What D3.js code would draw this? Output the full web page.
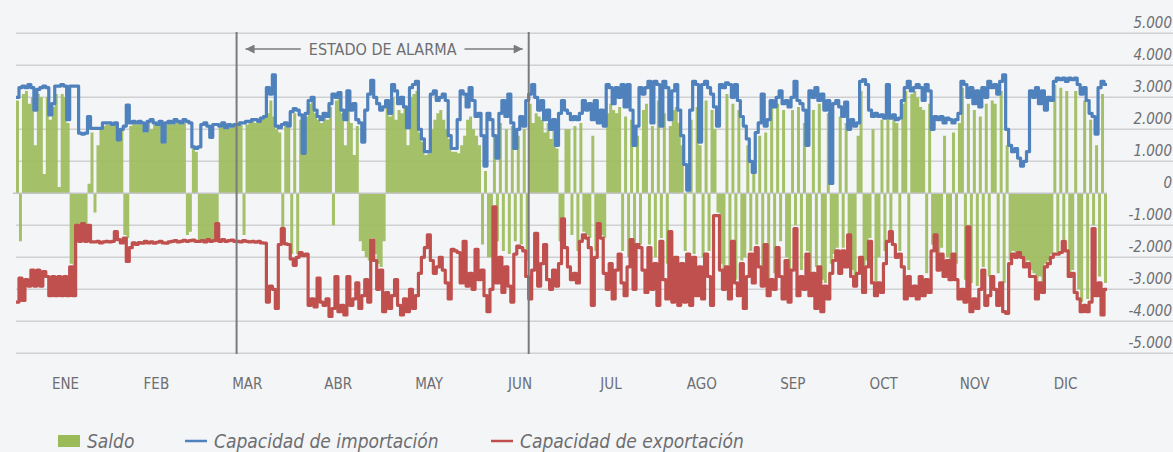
<!DOCTYPE html>
<html>
<head>
<meta charset="utf-8">
<script src="https://cdn.jsdelivr.net/npm/d3@7"></script>
<style>
  html, body { margin: 0; padding: 0; background: #f4f5f7; }
  svg { display: block; }
  text { font-family: "Liberation Sans Narrow", "DejaVu Sans Condensed", Roboto, sans-serif; }
</style>
</head>
<body>
<svg id="chart" width="1173" height="452"></svg>
<script>
// Period covered (one value per day)
const START_DATE = "2020-01-01";
const END_DATE = "2021-01-01";

const MONTHS = ["ENE", "FEB", "MAR", "ABR", "MAY", "JUN", "JUL", "AGO", "SEP", "OCT", "NOV", "DIC"];
const Y_TICKS = [5000, 4000, 3000, 2000, 1000, 0, -1000, -2000, -3000, -4000, -5000];

const ALARM_DATES = ["2020-03-15", "2020-06-21"];
const ALARM_LABEL = "ESTADO DE ALARMA";

const LEGEND_LABELS = ["Saldo", "Capacidad de importación", "Capacidad de exportación"];

// Daily import capacity (MW)
const IMPORT_MW = [
  3000, 3300, 3350, 3300, 3400, 3300, 2600, 3250, 3300, 3350,
  3300, 2450, 2800, 3350, 3350, 3400, 3350, 2300, 3350, 3350, 3350,
  1880, 1850, 1880, 2400, 2030, 2030, 2030, 2030, 2200, 2200,
  2200, 2150, 2200, 1670, 2000, 2100, 2760, 2200, 2250, 2200,
  2250, 2200, 1950, 2250, 2300, 2200, 2150, 2250, 1600, 2200,
  2250, 2200, 2300, 2250, 2200, 2300, 2250, 2200, 1450, 1400,
  1450, 2150, 2200, 2100, 1750, 2150, 2150, 2100, 2200, 2050, 2150, 2100, 2150,
  2150, 2200, 2200, 2250, 2250, 2300, 2300, 2250, 2350, 2400, 3300, 3100,
  3700, 2100, 2050, 2150, 2200, 2100, 2550, 2650, 2600, 2450, 1250, 2500,
  2900, 3000, 2600, 2400, 2300, 2500, 2400, 2800, 3100, 3000, 3150, 2600, 2300,
  3200, 2600, 2800, 2300, 2200, 1600, 2600, 3100, 3530, 3000, 2800, 2600,
  2700, 2900, 2500, 3400, 3200, 2800, 3000, 2700, 2050, 3300, 3400, 3500,
  2000, 1700, 1300, 1300, 3100, 3200, 2900, 3000, 3100, 2900, 1800, 1400,
  1400, 2300, 3200, 3100, 2700, 3300, 2900, 2400, 2500, 1800, 850, 2500,
  2300, 1800, 1100, 2500, 2900, 2400, 3100, 2200, 1400, 2000, 2400, 2100, 2900,
  3100, 3400, 3000, 2600, 2900, 2300, 2600, 2000, 2300, 1500, 2500, 2900, 2600,
  2500, 2300, 2400, 2300, 2500, 2900, 2600, 2800, 2300, 2900, 2200, 2600, 2100,
  3400, 3300, 2800, 3300, 3000, 3400, 2700, 3400, 2600, 1500, 2100, 3300, 3100,
  3300, 3500, 2200, 3500, 3400, 2100, 3500, 3300, 2300, 3200, 3400, 2600, 1800,
  900, 100, 2600, 3500, 3400, 1600, 3400, 3500, 3300, 3100, 2700, 2100, 3400,
  3300, 3450, 3400, 3000, 3400, 2900, 2400, 2100, 1700, 1000, 650, 1900, 2200,
  3100, 2100, 2300, 2900, 2700, 3000, 3200, 2800, 2900, 2700, 3000, 3500, 2900,
  2800, 2600, 1500, 3200, 3000, 3300, 2900, 3100, 2600, 2900, 310, 2800, 2900,
  2700, 2400, 2850, 2000, 2300, 2100, 2200, 3500, 3550, 3400, 2600, 2400, 2500,
  2400, 2450, 2350, 3400, 2350, 2450, 2300, 2350, 2900, 3300, 3500, 3200, 3300,
  3400, 3300, 2900, 3400, 3200, 2000, 2400, 2300, 2400, 2200, 2350, 2300, 2200,
  2300, 2500, 3500, 3400, 3000, 3300, 2800, 3200, 2700, 3300, 3000, 3500, 3300,
  3400, 3100, 3500, 3700, 2000, 1500, 1300, 1400, 1100, 850, 1000, 1300, 3200,
  3000, 3300, 2800, 3200, 2600, 3000, 2900, 3500, 3600, 3550, 3600, 3500, 3600,
  3550, 3600, 3400, 3100, 3300, 2900, 2500, 2400, 1850, 3300, 3500, 3400
];

// Daily export capacity (MW, negative)
const EXPORT_MW = [
  -3400, -2650, -3350, -2700, -2900, -2400, -2900, -2400, -2900, -2450,
  -2600, -3200, -2600, -3200, -2600, -3200, -2600, -3200, -2300, -3200, -1000,
  -1500, -950, -1500, -1000, -1520, -1520, -1500, -1550, -1520, -1500,
  -1520, -1500, -1200, -1450, -1550, -1400, -2130, -1700, -1550, -1600,
  -1540, -1560, -1500, -1550, -1520, -1560, -1530, -1500, -1550, -1560,
  -1520, -1500, -1480, -1520, -1500, -1470, -1500, -1480, -1460, -1500,
  -1500, -1480, -1520, -1450, -1500, -1480, -950, -1500, -1450, -1500, -1480, -1460, -1500,
  -1500, -1520, -1480, -1500, -1520, -1500, -1530, -1500, -1550, -1560, -3400, -2900,
  -3000, -3600, -1600, -1100, -1580, -1600, -2050, -2250, -2000, -1850, -1950, -1900,
  -3500, -3300, -3550, -2650, -3400, -3500, -3300, -3850, -3600, -2600, -3700, -3500, -3800,
  -2600, -3500, -3300, -2800, -3600, -3200, -2700, -3400, -1460, -2100, -3000, -2400,
  -3700, -3100, -3600, -3200, -2700, -3500, -3800, -3300, -3700, -3000, -3600, -3200,
  -2500, -2000, -1700, -1300, -2100, -2500, -2300, -2000, -2400, -2800, -3300, -1750,
  -1800, -1850, -2800, -1500, -2900, -2500, -3000, -1750, -2700, -2400, -3200, -3700,
  -3000, -420, -2800, -2000, -3100, -2300, -2900, -3400, -1900, -1650, -1700, -1800, -2600,
  -3300, -2400, -1250, -2900, -2200, -1600, -2700, -3000, -2400, -2900, -2200, -800, -1700,
  -2300, -2700, -2500, -2800, -1500, -1300, -1400, -1700, -3500, -2000, -950, -1400, -2500,
  -3000, -2200, -3300, -2400, -1900, -2800, -3200, -2300, -1450, -3000, -1600, -1700, -2400,
  -3100, -1700, -3000, -2200, -3500, -1500, -2700, -3300, -1200, -3400, -2000, -3500, -2200,
  -3400, -1900, -3500, -2000, -3200, -2300, -3300, -1900, -2600, -3500, -700, -700, -2400,
  -3000, -2300, -3300, -1500, -2800, -3200, -2200, -3600, -2600, -1900, -2800, -1700, -2300,
  -2900, -1600, -3200, -2700, -3000, -1700, -2600, -3300, -2100, -3400, -2400, -1100, -3200,
  -2600, -3000, -1900, -3200, -2500, -3600, -2300, -3700, -2900, -3300, -2500, -2100, -1800,
  -2500, -1800, -2300, -1300, -2600, -2900, -2500, -2000, -3100, -2300, -1500, -2800, -3200,
  -2800, -3100, -2200, -1500, -1200, -1600, -2000, -1900, -2300, -3300, -2600, -3200, -2900,
  -3300, -2600, -3200, -2700, -3100, -1800, -1300, -2400, -1900, -2600, -2100, -2700, -1900,
  -2700, -3300, -3000, -3400, -1050, -3700, -3300, -3600, -3000, -2400, -3500, -3200, -2600,
  -3000, -3500, -2800, -3700, -3750, -2200, -1900, -2000, -1850, -2000, -2300, -2200, -2600,
  -2600, -3300, -2800, -3100, -2300, -2200, -2000, -1900, -1900, -1850, -1500, -1800, -2600,
  -2500, -3100, -3300, -3700, -3500, -3700, -3400, -1100, -3200, -2800, -3800, -3000
];

// Daily net exchange balance (MW)
const SALDO_MW = [
  2900, -1500, 3100, 3200, 2800, 3000, 1500, 3100, 3000, 600,
  3000, 2300, 2700, 3100, 200, 3100, 3000, 2200, -2200, -2800, -1000,
  -1400, -900, -1300, 300, 1900, -600, 1500, 2000, 2100, 2150,
  2150, 2100, 2150, 1650, 1950, -1300, -1400, 2100, 2200, 2150,
  2200, 2150, 1900, 2200, 2000, 2150, 2100, 2200, 1550, 2150,
  2200, 2150, 2250, 2200, 2150, 2200, -1300, -1200, 1400, 1300,
  -1450, -1450, -1500, -1400, -1450, -1450, -900, 2050, 2150, 2000, 2100, 2050, 2100,
  2100, 2150, -1300, 2150, 2200, 2250, 2200, 2200, 2300, 2350, 2500, 2900,
  2400, 2000, 1900, -1100, 2100, 2050, -1900, 2500, -1900, 2300, 1200, 2400,
  2800, 2900, 2500, 2300, 2200, 2400, 2300, 2700, -1000, 2900, 3000, 2500, 1500,
  2900, 2200, 1200, 2100, -1500, -1800, -2000, -2100, -1400, -1900, -2200, -2300,
  -1500, 2700, 2400, 3000, 2300, 2600, 2500, 2700, 1500, 3000, 3100, 3200,
  1900, 1600, 1200, 1250, 2000, 2300, 2500, 2600, 2300, 2000, 1700, 1300,
  1300, 1250, 1500, 1800, 2300, 2400, 2000, 1800, 1500, -1600, 700, -2000,
  -2000, 1800, -1500, 2200, -1800, 2000, -1900, 2100, -1500, 1800, -1600, 2000, -2100,
  2800, 2200, 2500, 2400, 2300, 1900, 2200, 1700, 2000, 1400, -1500, -800, 2000,
  2000, -1300, 2100, -1800, 2200, -1200, -1300, -1400, 1800, -1800, -900, -1300, -1400,
  2500, 2800, 2600, 2500, 2700, -1800, 2400, -2000, 2300, -2200, 1800, -1600, 2600,
  2800, -1600, 2100, -2000, 2900, -1400, 2500, -2200, 2100, 2600, 2700, 2200, 1500,
  -1800, 50, 2300, -1900, 2700, 1500, -2000, 2900, -1800, 2600, 2000, -600, -2200,
  -2600, 3100, -2300, 2800, -2700, 2600, -2100, -2000, 1500, -1800, 600, -1600, 1800,
  -2400, 1900, -2700, 2700, -2500, 2800, -1500, 2600, -2000, -2900, 2600, -1000, 2700,
  -2400, 2200, -1800, -2900, 2600, -2300, 2800, -2700, -2800, 2500, -2200, -1900, -1700,
  2400, -1700, 2200, -1300, -2400, -2700, 1800, 3200, -2900, -2100, -1400, 2000, -2900,
  -2000, 2300, -1800, 3000, -1200, 2400, 2200, -1800, 2800, 3200, -2400, 3100, 3200,
  3000, 2700, 2600, -2500, 2800, -1600, -1300, -1900, -1700, 1800, -2000, -2300, 1900,
  -2200, 2200, 3300, -2700, 2800, -2800, 2600, -2900, 2400, -2300, 2800, -2600, 2900,
  2800, -2500, 3200, -2800, 1500, -2100, -1800, -1900, -1800, -1950, -2200, -2100, -2400,
  -2500, -3000, -2600, -2900, -2200, -2100, -1900, 3400, -1850, 3300, -1450, 3200, -2500,
  -2400, 3200, -3000, -3400, 2900, -3300, 2300, -1000, 1500, -2600, 3100, -2800
];

const COLORS = { saldo: "#9bbb59", imp: "#4f81bd", exp: "#c0504d", grid: "#cfd0d2", text: "#6d6e71", alarm: "#7b7b7b" };

const svg = d3.select("#chart");
const W = 1173, H = 452;
svg.append("rect").attr("width", W).attr("height", H).attr("fill", "#f4f5f7");

const start = new Date(START_DATE + "T00:00:00Z");
const end = new Date(END_DATE + "T00:00:00Z");
const x = d3.scaleUtc().domain([start, end]).range([16, 1107]);
const y = d3.scaleLinear().domain([-5000, 5000]).range([353.3, 33.3]);

const days = IMPORT_MW.map((_, i) => d3.utcDay.offset(start, i));
// Extend the last step to the end of the year
function series(values) {
  const pts = values.map((v, i) => ({ date: days[i], v }));
  pts.push({ date: end, v: values[values.length - 1] });
  return pts;
}

const locale = d3.formatLocale({ decimal: ",", thousands: ".", grouping: [3], currency: ["", " €"], minus: "-" });
const fmt = locale.format(",d");

// Horizontal gridlines
svg.append("g").selectAll("line")
  .data(Y_TICKS.filter(t => t !== 0))
  .join("line")
  .attr("x1", 16).attr("x2", W)
  .attr("y1", d => y(d)).attr("y2", d => y(d))
  .attr("stroke", COLORS.grid).attr("stroke-width", 1.5);

// Net balance area
const area = d3.area().curve(d3.curveStepAfter)
  .x(d => x(d.date)).y0(y(0)).y1(d => y(d.v));
svg.append("path").datum(series(SALDO_MW))
  .attr("d", area).attr("fill", COLORS.saldo).attr("fill-opacity", 0.9);

// Zero axis line
svg.append("line")
  .attr("x1", 13).attr("x2", 1107).attr("y1", y(0)).attr("y2", y(0))
  .attr("stroke", "#c4c5c7").attr("stroke-width", 1.5);

// Capacity lines
const line = d3.line().curve(d3.curveStepAfter).x(d => x(d.date)).y(d => y(d.v));
svg.append("path").datum(series(IMPORT_MW))
  .attr("d", line).attr("fill", "none").attr("stroke", COLORS.imp)
  .attr("stroke-width", 3.2).attr("stroke-linejoin", "round");
svg.append("path").datum(series(EXPORT_MW))
  .attr("d", line).attr("fill", "none").attr("stroke", COLORS.exp)
  .attr("stroke-width", 3.2).attr("stroke-linejoin", "round");

// Y tick labels, sitting above their gridlines on the right
svg.append("g").selectAll("text")
  .data(Y_TICKS)
  .join("text")
  .attr("x", 1172).attr("y", d => y(d) - 5)
  .attr("text-anchor", "end")
  .attr("font-size", 15).attr("font-style", "italic")
  .attr("fill", COLORS.text)
  .text(d => fmt(d));

// Month labels
const mx = d3.scaleBand().domain(MONTHS).range([20, 1111]);
const xAxis = svg.append("g").attr("transform", "translate(0,378)")
  .call(d3.axisBottom(mx).tickSize(0).tickPadding(0));
xAxis.select(".domain").remove();
xAxis.selectAll("text").attr("font-size", 15).attr("fill", COLORS.text)
  .attr("font-family", "\"Liberation Sans Narrow\", \"DejaVu Sans Condensed\", Roboto, sans-serif");

// State of alarm period
const a0 = x(new Date(ALARM_DATES[0] + "T00:00:00Z"));
const a1 = x(new Date(ALARM_DATES[1] + "T00:00:00Z"));
svg.append("g").selectAll("line")
  .data([a0, a1]).join("line")
  .attr("x1", d => d).attr("x2", d => d).attr("y1", 32).attr("y2", 354)
  .attr("stroke", COLORS.alarm).attr("stroke-width", 2);

const defs = svg.append("defs");
defs.append("marker").attr("id", "arrowhead")
  .attr("viewBox", "0 0 10 10").attr("refX", 10).attr("refY", 5)
  .attr("markerWidth", 14).attr("markerHeight", 9).attr("orient", "auto-start-reverse")
  .attr("markerUnits", "userSpaceOnUse")
  .append("path").attr("d", "M0,0 L10,5 L0,10 Z").attr("fill", COLORS.alarm);

const labelY = 49;
const mid = (a0 + a1) / 2;
const label = svg.append("text")
  .attr("x", mid).attr("y", labelY + 6)
  .attr("text-anchor", "middle").attr("font-size", 16)
  .attr("fill", COLORS.text).text(ALARM_LABEL);
const lw = label.node().getComputedTextLength();
svg.append("line")
  .attr("x1", mid - lw / 2 - 8).attr("x2", a0 + 9).attr("y1", labelY).attr("y2", labelY)
  .attr("stroke", COLORS.alarm).attr("stroke-width", 1.6)
  .attr("marker-end", "url(#arrowhead)");
svg.append("line")
  .attr("x1", mid + lw / 2 + 8).attr("x2", a1 - 6).attr("y1", labelY).attr("y2", labelY)
  .attr("stroke", COLORS.alarm).attr("stroke-width", 1.6)
  .attr("marker-end", "url(#arrowhead)");

// Legend
const legend = svg.append("g").attr("transform", "translate(0,441)");
const items = [
  { label: LEGEND_LABELS[0], kind: "rect", color: COLORS.saldo, x: 58 },
  { label: LEGEND_LABELS[1], kind: "line", color: COLORS.imp, x: 185 },
  { label: LEGEND_LABELS[2], kind: "line", color: COLORS.exp, x: 491 }
];
items.forEach(it => {
  if (it.kind === "rect") {
    legend.append("rect").attr("x", it.x).attr("y", -6).attr("width", 22).attr("height", 12).attr("fill", it.color);
  } else {
    legend.append("line").attr("x1", it.x).attr("x2", it.x + 22).attr("y1", 0).attr("y2", 0)
      .attr("stroke", it.color).attr("stroke-width", 2.5);
  }
  legend.append("text").attr("x", it.x + 29).attr("y", 7)
    .attr("font-size", 19).attr("font-style", "italic").attr("fill", COLORS.text)
    .text(it.label);
});
</script>
</body>
</html>
